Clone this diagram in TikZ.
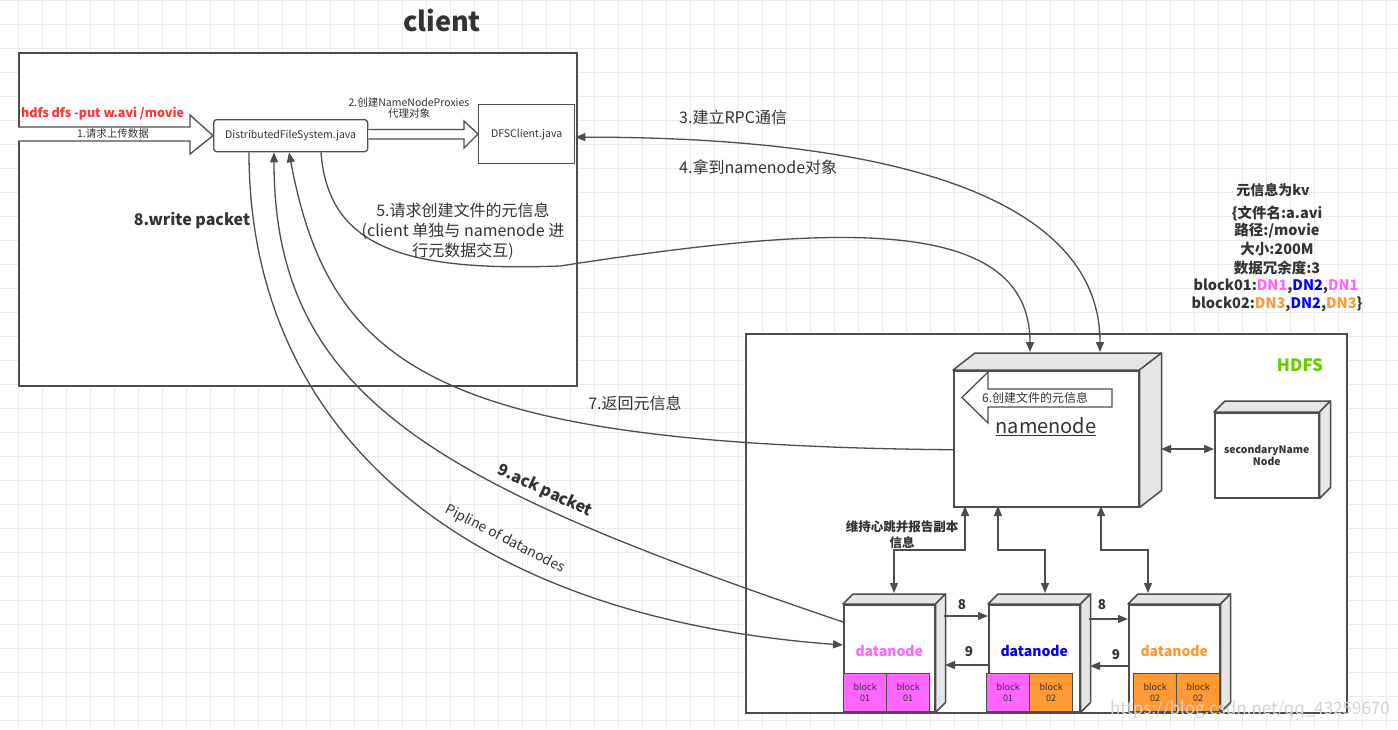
\documentclass[tikz,border=0pt]{standalone}
\usepackage{fontspec}
\setmainfont{Noto Sans CJK SC}
\usetikzlibrary{arrows.meta,calc}
\definecolor{ln}{HTML}{4D4D4D}
\definecolor{tx}{HTML}{333333}
\definecolor{gridc}{HTML}{EBEBEB}
\definecolor{face}{HTML}{E6E6E6}
\definecolor{dnpink}{HTML}{FF66FF}
\definecolor{dnblue}{HTML}{0000FF}
\definecolor{dnorange}{HTML}{FF9933}
\definecolor{hdfsgreen}{HTML}{66CC00}
\definecolor{cmdred}{HTML}{FF3333}
\newcommand\fsz[2]{\fontsize{#1}{#2}\selectfont}
\newcommand\drawcube[7]{%
  \node[box, anchor=north west, minimum width=#4pt, minimum height=#5pt] (#1) at (#2,#3) {};
  \filldraw[facestyle] (#1.north west) -- ++(#6,-#7) -- ($(#1.north east)+(#6,-#7)$) -- (#1.north east) -- cycle;
  \filldraw[facestyle] (#1.north east) -- ++(#6,-#7) -- ($(#1.south east)+(#6,-#7)$) -- (#1.south east) -- cycle;
}
\begin{document}
\begin{tikzpicture}[x=1pt,y=-1pt,
  box/.style={draw=ln, line width=1.5pt, fill=white, inner sep=0pt},
  facestyle/.style={draw=ln, line width=1.5pt, fill=face, line join=round},
  conn/.style={draw=ln, line width=1.3pt},
  tipend/.style={-{Triangle[length=10pt,width=8pt]}},
  tipstart/.style={{Triangle[length=10pt,width=8pt]}-},
  tipboth/.style={{Triangle[length=10pt,width=8pt]}-{Triangle[length=10pt,width=8pt]}},
  hollow/.style={draw=ln, line width=1.3pt, fill=white, line join=miter},
  lbl/.style={text=tx, inner sep=0pt},
  blk/.style={draw=ln, line width=1.3pt, anchor=north west, minimum width=43pt, minimum height=38pt, inner sep=0pt, align=center, text=tx, font=\fsz{9}{11.5}},
]
\useasboundingbox (0,0) rectangle (1398,729);
\fill[white] (0,0) rectangle (1398,729);
\foreach \x in {18,42,...,1398} \draw[gridc, line width=0.8pt] (\x,0) -- (\x,729);
\foreach \y in {0,24,...,729} \draw[gridc, line width=0.8pt] (0,\y) -- (1398,\y);

% title and client box
\node[lbl, font=\fsz{27}{30}\bfseries] (title) at (442,20) {client};
\node[box, line width=2pt, anchor=north west, minimum width=558pt, minimum height=333pt] (client) at (18,52) {};

% command and arrow 1
\node[lbl, anchor=west, text=cmdred, font=\fsz{12.5}{15}\bfseries] (cmd) at (21,114) {hdfs dfs -put w.avi /movie};
\node[box, line width=1.3pt, rounded corners=3pt, anchor=north west, minimum width=154pt, minimum height=32pt, font=\fsz{10.5}{12}, text=tx] (dfs) at (213,119) {DistributedFileSystem.java};
\draw[hollow] (client.west |- 0,127) -- (190,127) -- (190,115) -- (dfs.west) -- (190,154) -- (190,141) -- (client.west |- 0,141);
\node[lbl, font=\fsz{10.5}{12}] (l1) at (113,134) {1.请求上传数据};

% DFSClient and arrow 2
\node[box, line width=1.3pt, anchor=north west, minimum width=96pt, minimum height=59pt, font=\fsz{10.5}{12}, text=tx] (dfsc) at (478,104) {DFSClient.java};
\draw[hollow] (dfs.east |- 0,129.5) -- (464,129.5) -- (464,121) -- (dfsc.west |- 0,134) -- (464,148) -- (464,139) -- (dfs.east |- 0,139);
\node[lbl, font=\fsz{10.5}{11.5}, align=center] (l2) at (409,108) {2.创建NameNodeProxies\\代理对象};

% HDFS box
\node[box, line width=2pt, anchor=north west, minimum width=601pt, minimum height=379pt] (hdfs) at (745,333) {};
\node[lbl, text=hdfsgreen, font=\fsz{17}{20}\bfseries] (hdfsl) at (1300,365) {HDFS};

% namenode
\drawcube{nn}{953}{370}{185}{136}{22}{17}
\draw[hollow] (1112,389) -- (988,389) -- (988,372) -- (962,397.5) -- (988,423) -- (988,407) -- (1112,407) -- cycle;
\node[lbl, anchor=west, font=\fsz{12}{14}] (l6) at (982,398) {6.创建文件的元信息};
\node[lbl, font=\fsz{20}{24}] (nnl) at (1046,427) {\underline{namenode}};

% secondary namenode
\drawcube{snn}{1214}{412}{104}{85}{11}{11}
\node[lbl, font=\fsz{10.4}{12.5}\bfseries, align=center] (snnl) at (snn.center) {secondaryName\\Node};
\draw[conn, tipboth] (1161,449) -- (snn.west |- 0,449);

% datanodes
\drawcube{dn1}{843}{604}{91}{107}{10}{10}
\drawcube{dn2}{988}{604}{91}{107}{10}{10}
\drawcube{dn3}{1128}{604}{91}{107}{10}{10}
\node[lbl, text=dnpink, font=\fsz{14}{16}\bfseries] (dn1l) at ($(dn1.north)+(0,47)$) {datanode};
\node[lbl, text=dnblue, font=\fsz{14}{16}\bfseries] (dn2l) at ($(dn2.north)+(0,47)$) {datanode};
\node[lbl, text=dnorange, font=\fsz{14}{16}\bfseries] (dn3l) at ($(dn3.north)+(0,47)$) {datanode};
\node[blk, fill=dnpink] (b11) at (843,673) {block\\01};
\node[blk, fill=dnpink] (b12) at (886,673) {block\\01};
\node[blk, fill=dnpink] (b21) at (986,673) {block\\01};
\node[blk, fill=dnorange] (b22) at (1029,673) {block\\02};
\node[blk, fill=dnorange] (b31) at (1133,673) {block\\02};
\node[blk, fill=dnorange] (b32) at (1176,673) {block\\02};

% pipeline arrows between datanodes
\draw[conn, tipend] (944,616) -- (dn2.west |- 0,616);
\draw[conn, tipend] (1089,619) -- (dn3.west |- 0,619);
\draw[conn, tipend] (dn2.west |- 0,665) -- (945,665);
\draw[conn, tipend] (dn3.west |- 0,666) -- (1090,666);
\node[lbl, font=\fsz{13.5}{16}\bfseries] (e81) at (962,605) {8};
\node[lbl, font=\fsz{13.5}{16}\bfseries] (e82) at (1102,605) {8};
\node[lbl, font=\fsz{13.5}{16}\bfseries] (e91) at (969,652) {9};
\node[lbl, font=\fsz{13.5}{16}\bfseries] (e92) at (1116,655) {9};

% heartbeat elbows
\draw[conn, tipboth] (965,506) -- (965,550) -- (894,550) -- (894,593);
\draw[conn, tipboth] (998,506) -- (998,550) -- (1045,550) -- (1045,593);
\draw[conn, tipboth] (1101,506) -- (1101,550) -- (1148,550) -- (1148,593);
\node[lbl, font=\fsz{12.5}{16}\bfseries, align=center] (hb) at (902,535) {维持心跳并报告副本\\信息};

% metadata
\node[lbl, font=\fsz{14}{16}\bfseries] (m1) at (1273,190) {元信息为kv};
\node[lbl, font=\fsz{14.5}{16}\bfseries] (m2) at (1277,213) {\{文件名:a.avi};
\node[lbl, font=\fsz{14.5}{16}\bfseries] (m3) at (1277,231) {路径:/movie};
\node[lbl, font=\fsz{14.5}{16}\bfseries] (m4) at (1277,249) {大小:200M};
\node[lbl, font=\fsz{14.5}{16}\bfseries] (m5) at (1277,268) {数据冗余度:3};
\node[lbl, font=\fsz{14.5}{16}\bfseries] (m6) at (1276,286) {block01:\textcolor{dnpink}{DN1},\textcolor{dnblue}{DN2},\textcolor{dnpink}{DN1}};
\node[lbl, font=\fsz{14.5}{16}\bfseries] (m7) at (1277,304) {block02:\textcolor{dnorange}{DN3},\textcolor{dnblue}{DN2},\textcolor{dnorange}{DN3}\}};

% coordinates
\coordinate (p8) at ($(dfs.south west)+(36,0)$);
\coordinate (p9) at ($(dfs.south west)+(61,0)$);
\coordinate (p7) at ($(dfs.south west)+(76,0)$);
\coordinate (p5) at ($(dfs.south west)+(108,0)$);
\coordinate (nnA) at (1030,352);
\coordinate (nnB) at (1100,352);
\coordinate (dn1in) at ($(dn1.north west)+(0,41)$);
\coordinate (dn1out) at ($(dn1.north west)+(0,18)$);
\coordinate (nnret) at ($(nn.west)+(0,11)$);

% curves
\draw[conn, tipboth] ([yshift=-3pt]dfsc.east) .. controls (900,137) and (1100,200) .. (nnB);
\node[lbl, anchor=west, font=\fsz{16}{18}] (l3) at (679,117) {3.建立RPC通信};
\node[lbl, anchor=west, font=\fsz{16}{18}] (l4) at (679,167) {4.拿到namenode对象};

\draw[conn, tipend] (p5) .. controls (328,245) and (400,272) .. (560,266) .. controls (820,226) and (1030,210) .. (nnA);
\node[lbl, font=\fsz{16}{20}, align=center] (l5) at (463,231) {5.请求创建文件的元信息\\(client 单独与 namenode 进\\行元数据交互)};

\draw[conn, tipstart] (p7) .. controls (330,370) and (440,445) .. (nnret);
\node[lbl, font=\fsz{16}{18}] (l7) at (635,403) {7.返回元信息};

\draw[conn, tipstart] (p9) .. controls (274,401) and (443,486) .. (dn1out);
\node[lbl, font=\fsz{16}{18}\bfseries, rotate=-25] (l9) at (545,491) {9.ack packet};

\draw[conn, tipend] (p8) .. controls (249,431) and (462,617) .. (dn1in);
\node[lbl, font=\fsz{13.8}{16}, rotate=-27] (lp) at (505,539) {Pipline of datanodes};
\node[lbl, font=\fsz{16}{18}\bfseries] (l8) at (192,221) {8.write packet};

% watermark
\node[lbl, anchor=east, text=gray!35, font=\fsz{17}{20}] (wm) at (1390,710) {https://blog.csdn.net/qq\_43259670};
\end{tikzpicture}
\end{document}
